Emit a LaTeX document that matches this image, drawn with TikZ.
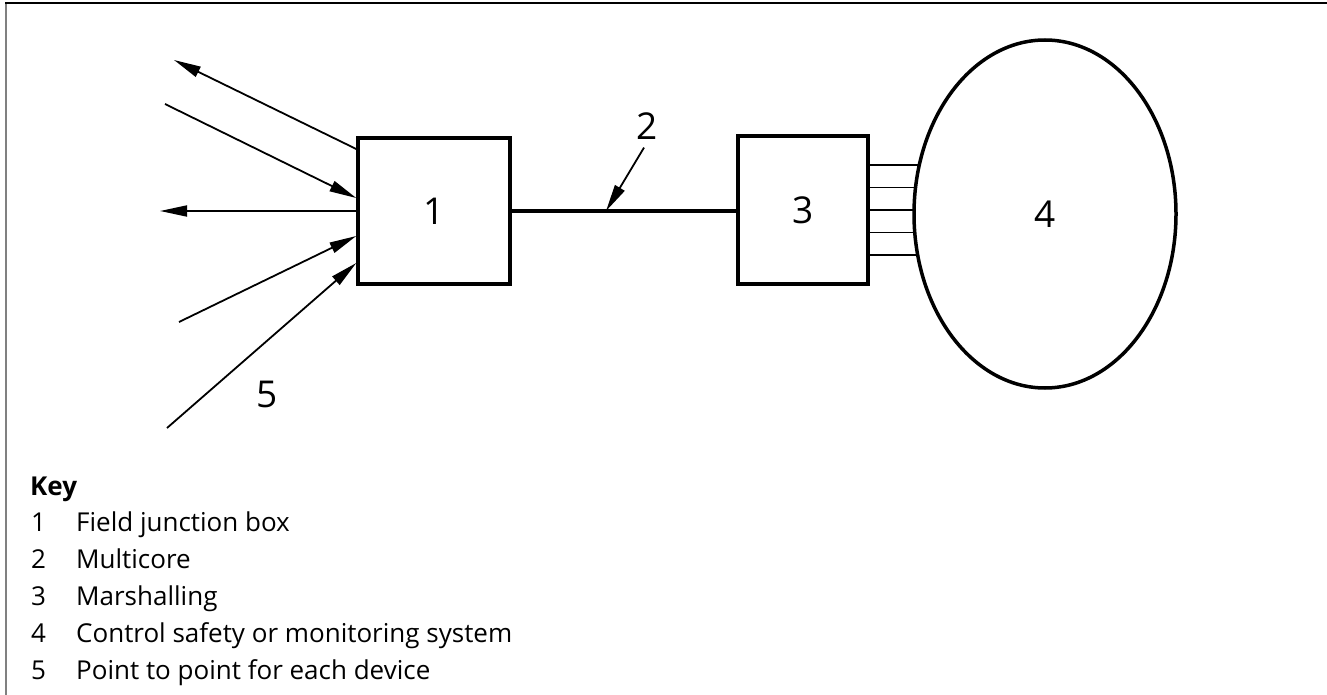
\documentclass[tikz,border=0pt]{standalone}
\usepackage{fontspec}
\setmainfont{Open Sans}
\usetikzlibrary{arrows.meta,positioning,shapes.geometric}

\begin{document}
\begin{tikzpicture}[
    x=1pt, y=-1pt,
    box/.style={draw, line width=3.5pt, minimum height=146pt, inner sep=0pt, font=\fontsize{37}{37}\selectfont},
    wire/.style={line width=1.8pt},
    arr/.style={-{Triangle[length=27pt,width=11pt]}, line width=1.8pt},
    num/.style={inner sep=0pt, font=\fontsize{37}{37}\selectfont},
    keytxt/.style={anchor=base west, inner sep=0pt, font=\fontsize{26}{26}\selectfont}
  ]
  \useasboundingbox (0,0) rectangle (1327,695);
  \draw[line width=2.5pt, gray] (6,695) -- (6,3);
  \draw[line width=2.5pt] (5,3) -- (1327,3);

  \node[box, minimum width=152pt] (fjb) at (434,211) {1};
  \node[box, minimum width=130pt, minimum height=148pt] (mar) at (803,210) {3};

  \coordinate (o1) at (174,60);
  \coordinate (i2) at (165,104);
  \coordinate (o3) at (160,211);
  \coordinate (i4) at (179,322);
  \coordinate (i5) at (167,428);
  \draw[arr] ([yshift=62pt]fjb.west) -- (o1);
  \draw[arr] (i2) -- ([yshift=13pt]fjb.west);
  \draw[arr] (fjb.west) -- (o3);
  \draw[arr] (i4) -- ([yshift=-25pt]fjb.west);
  \draw[arr] (i5) -- ([yshift=-52pt]fjb.west);
  \node[num] (lbl5) at (267,394) {5};

  \draw[line width=3.5pt] (fjb.east) -- (fjb.east -| mar.west);
  \coordinate (mc) at (606,211);
  \node[num] (lbl2) at (647,126) {2};
  \draw[arr] ([xshift=-3pt]lbl2.south) ++(0,8) -- (mc);

  \draw[wire] ([yshift=45pt]mar.east) -- ++(70,0);
  \draw[wire] ([yshift=22.5pt]mar.east) -- ++(70,0);
  \draw[wire] (mar.east) -- ++(70,0);
  \draw[wire] ([yshift=-22.5pt]mar.east) -- ++(70,0);
  \draw[wire] ([yshift=-45pt]mar.east) -- ++(70,0);
  \node[ellipse, draw, fill=white, line width=3.5pt, minimum width=262pt, minimum height=348pt,
        inner sep=0pt, font=\fontsize{37}{37}\selectfont] (ctrl) at (1045,214) {4};

  \node[keytxt, font=\fontsize{26}{26}\selectfont\bfseries] (key) at (30,495) {Key};
  \node[keytxt] (n1) at (31,531) {1};
  \node[keytxt] (t1) at (76,531) {Field junction box};
  \node[keytxt] (n2) at (31,568) {2};
  \node[keytxt] (t2) at (76,568) {Multicore};
  \node[keytxt] (n3) at (31,605) {3};
  \node[keytxt] (t3) at (76,605) {Marshalling};
  \node[keytxt] (n4) at (31,642) {4};
  \node[keytxt] (t4) at (76,642) {Control safety or monitoring system};
  \node[keytxt] (n5) at (31,679) {5};
  \node[keytxt] (t5) at (76,679) {Point to point for each device};
\end{tikzpicture}
\end{document}
